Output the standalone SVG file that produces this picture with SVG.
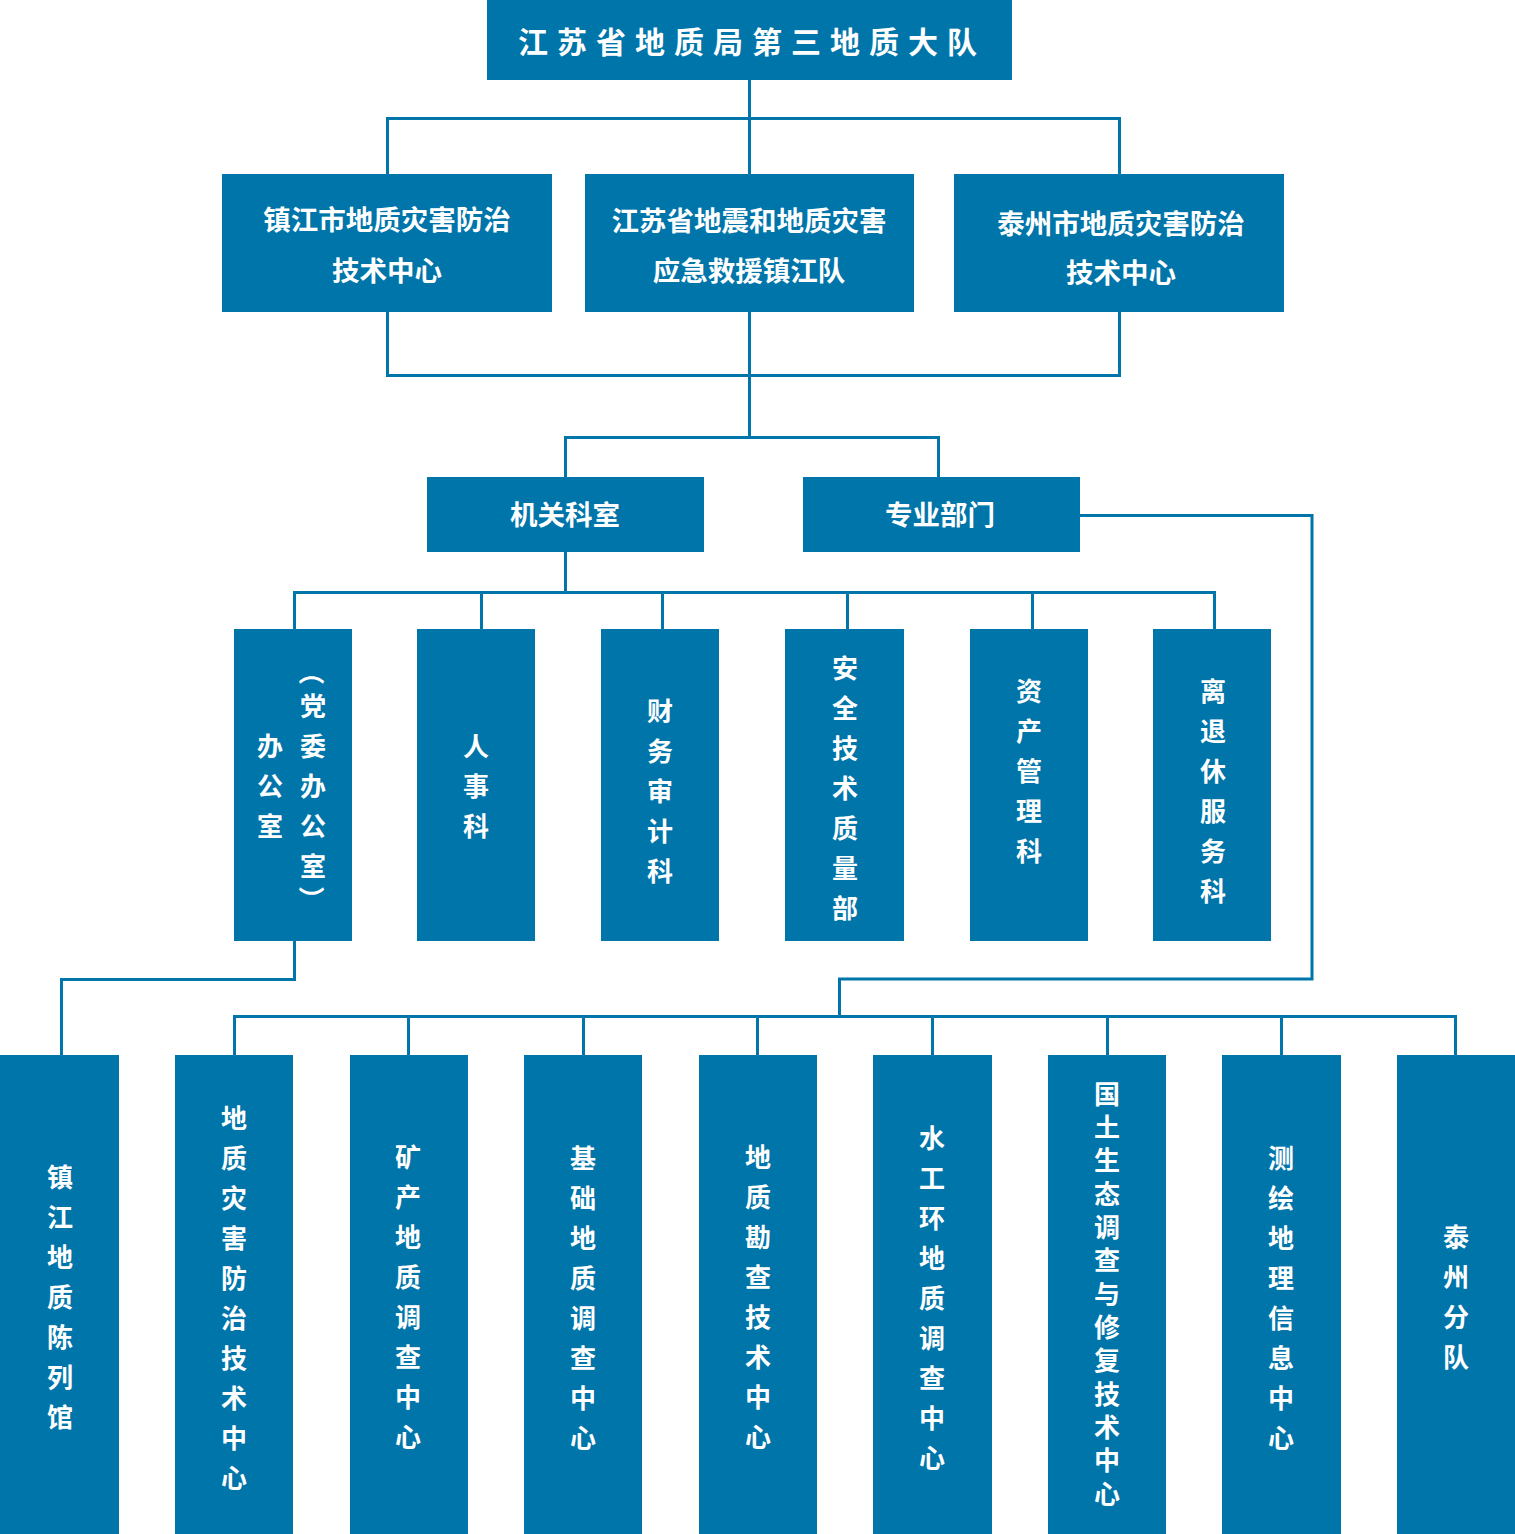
<svg xmlns="http://www.w3.org/2000/svg" width="1515" height="1534" viewBox="0 0 1515 1534">
<style>
.box{fill:#0075AA}
.t{fill:#fff;font-family:"Noto Sans CJK SC","Noto Sans",sans-serif;font-weight:700;font-size:26px;text-anchor:middle;dominant-baseline:central}
.h{font-size:27.5px}
.title{font-size:30px;letter-spacing:9px}
.ln{stroke:#0075AA;stroke-width:3;fill:none}
</style>
<rect width="1515" height="1534" fill="#fff"/>
<g id="connectors">
<path class="ln" d="M749.5 80V118.5M387.5 174V118.5H1119.5V174M749.5 118.5V174"/>
<path class="ln" d="M387.5 312V375.5H1119.5V312M749.5 312V437.5M565.5 477V437.5H938.5V477"/>
<path class="ln" d="M565.5 552V592.5M294.5 629V592.5H1214.5V629M481.5 592.5V629M662.5 592.5V629M847.5 592.5V629M1032.5 592.5V629"/>
<path class="ln" d="M1080 515.5H1312V979H839.5V1016.5M234.5 1055V1016.5H1455.5V1055M408.5 1016.5V1055M583.5 1016.5V1055M757.5 1016.5V1055M932.5 1016.5V1055M1107.5 1016.5V1055M1281.5 1016.5V1055"/>
<path class="ln" d="M294.5 941V979.5H61.5V1055"/>
</g>
<g id="n-root"><rect class="box" x="487" y="0" width="525" height="80"/><text class="t title" x="752" y="40">江苏省地质局第三地质大队</text></g>
<g id="n-zj"><rect class="box" x="222" y="174" width="330" height="138"/><text class="t h" x="387" y="218">镇江市地质灾害防治</text><text class="t h" x="387" y="269">技术中心</text></g>
<g id="n-js"><rect class="box" x="585" y="174" width="329" height="138"/><text class="t h" x="749" y="219">江苏省地震和地质灾害</text><text class="t h" x="749" y="269">应急救援镇江队</text></g>
<g id="n-tz"><rect class="box" x="954" y="174" width="330" height="138"/><text class="t h" x="1121" y="222">泰州市地质灾害防治</text><text class="t h" x="1121" y="271">技术中心</text></g>
<g id="n-jg"><rect class="box" x="427" y="477" width="277" height="75"/><text class="t h" x="565" y="513">机关科室</text></g>
<g id="n-zy"><rect class="box" x="803" y="477" width="277" height="75"/><text class="t h" x="940" y="513">专业部门</text></g>
<g id="n-bgs"><rect class="box" x="234" y="629" width="118" height="312"/>
<text class="t" x="270 270 270" y="744 784 824">办公室</text>
<text class="t" transform="rotate(90 313 672)" x="313" y="672">（</text>
<text class="t" x="313 313 313 313 313" y="704 744 784 824 864">党委办公室</text>
<text class="t" transform="rotate(90 313 899)" x="313" y="899">）</text></g>
<g id="n-rs"><rect class="box" x="417" y="629" width="118" height="312"/><text class="t" x="476 476 476" y="744 784 824">人事科</text></g>
<g id="n-cw"><rect class="box" x="601" y="629" width="118" height="312"/><text class="t" x="660 660 660 660 660" y="709 749 789 829 869">财务审计科</text></g>
<g id="n-aq"><rect class="box" x="785" y="629" width="119" height="312"/><text class="t" x="845 845 845 845 845 845 845" y="666 706 746 786 826 866 906">安全技术质量部</text></g>
<g id="n-zc"><rect class="box" x="970" y="629" width="118" height="312"/><text class="t" x="1029 1029 1029 1029 1029" y="689 729 769 809 849">资产管理科</text></g>
<g id="n-lt"><rect class="box" x="1153" y="629" width="118" height="312"/><text class="t" x="1213 1213 1213 1213 1213 1213" y="689 729 769 809 849 889">离退休服务科</text></g>
<g id="n-clg"><rect class="box" x="0" y="1055" width="119" height="479"/><text class="t" x="60 60 60 60 60 60 60" y="1175 1215 1255 1295 1335 1375 1415">镇江地质陈列馆</text></g>
<g id="n-dz"><rect class="box" x="175" y="1055" width="118" height="479"/><text class="t" x="234 234 234 234 234 234 234 234 234 234" y="1116 1156 1196 1236 1276 1316 1356 1396 1436 1476">地质灾害防治技术中心</text></g>
<g id="n-kc"><rect class="box" x="350" y="1055" width="118" height="479"/><text class="t" x="408 408 408 408 408 408 408 408" y="1155 1195 1235 1275 1315 1355 1395 1435">矿产地质调查中心</text></g>
<g id="n-jc"><rect class="box" x="524" y="1055" width="118" height="479"/><text class="t" x="583 583 583 583 583 583 583 583" y="1156 1196 1236 1276 1316 1356 1396 1436">基础地质调查中心</text></g>
<g id="n-kt"><rect class="box" x="699" y="1055" width="118" height="479"/><text class="t" x="758 758 758 758 758 758 758 758" y="1155 1195 1235 1275 1315 1355 1395 1435">地质勘查技术中心</text></g>
<g id="n-sg"><rect class="box" x="873" y="1055" width="119" height="479"/><text class="t" x="932 932 932 932 932 932 932 932 932" y="1136 1176 1216 1256 1296 1336 1376 1416 1456">水工环地质调查中心</text></g>
<g id="n-gt"><rect class="box" x="1048" y="1055" width="118" height="479"/><text class="t" x="1107 1107 1107 1107 1107 1107 1107 1107 1107 1107 1107 1107 1107" y="1092 1125.3 1158.7 1192 1225.3 1258.7 1292 1325.3 1358.7 1392 1425.3 1458.7 1492">国土生态调查与修复技术中心</text></g>
<g id="n-ch"><rect class="box" x="1222" y="1055" width="119" height="479"/><text class="t" x="1281 1281 1281 1281 1281 1281 1281 1281" y="1156 1196 1236 1276 1316 1356 1396 1436">测绘地理信息中心</text></g>
<g id="n-tzfd"><rect class="box" x="1397" y="1055" width="118" height="479"/><text class="t" x="1456 1456 1456 1456" y="1235 1275 1315 1355">泰州分队</text></g>
</svg>
